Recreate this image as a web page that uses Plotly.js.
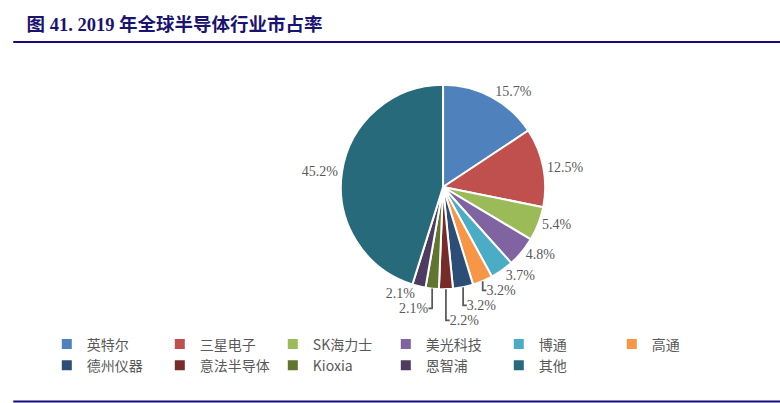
<!DOCTYPE html>
<html>
<head>
<meta charset="utf-8">
<script src="https://cdn.plot.ly/plotly-3.0.1.min.js"></script>
<style>
  html, body { margin: 0; padding: 0; background: #fff; }
  #chart { width: 780px; height: 403px; }
</style>
</head>
<body>
<div id="chart"></div>
<script>
// market share 2019, clockwise from 12 o'clock
const companies = ["英特尔", "三星电子", "SK海力士", "美光科技", "博通", "高通",
                   "德州仪器", "意法半导体", "Kioxia", "恩智浦", "其他"]
const shares = [15.7, 12.5, 5.4, 4.8, 3.7, 3.2, 3.2, 2.2, 2.1, 2.1, 45.2]
const sliceColors = ["#4F81BD", "#C0504D", "#9BBB59", "#8064A2", "#4BACC6", "#F79646",
                     "#2C4D75", "#772C2A", "#5F7530", "#4D3B62", "#276A7C"]

const navy = "#150a7e"
const labelFont = "Liberation Serif, DejaVu Serif, serif"
const cjkFont = "Noto Sans CJK SC, sans-serif"

const data = [{
    type: 'pie',
    labels: companies,
    values: shares,
    sort: false,
    direction: 'clockwise',
    rotation: 0,
    marker: { colors: sliceColors, line: { color: '#ffffff', width: 2 } },
    texttemplate: '%{value:.1f}%',
    textposition: 'outside',
    textfont: { family: labelFont, size: 14, color: '#595959' },
    outsidetextfont: { family: labelFont, size: 14, color: '#595959' },
    hoverinfo: 'label+value',
    domain: { x: [0.437, 0.699], y: [0.282, 0.79] },
}]

const layout = {
    width: 780,
    height: 403,
    margin: { l: 0, r: 0, t: 0, b: 0 },
    paper_bgcolor: '#ffffff',
    showlegend: true,
    title: {
        text: "<b>图 41. 2019 年全球半导体行业市占率</b>",
        font: { family: "Liberation Serif, Noto Sans CJK SC, serif", size: 18.5, color: "#1a1470" },
        xref: 'container', yref: 'container',
        x: 0.034, xanchor: 'left',
        y: 0.94, yanchor: 'middle',
    },
    legend: {
        orientation: 'h',
        x: 0.06, xanchor: 'left',
        y: 0.185, yanchor: 'top',
        entrywidth: 68,
        entrywidthmode: 'pixels',
        itemwidth: 30,
        bgcolor: 'rgba(0,0,0,0)',
        traceorder: 'normal',
        font: { family: cjkFont, size: 14, color: '#595959' },
        itemclick: false, itemdoubleclick: false,
    },
    shapes: [
        { type: 'line', xref: 'paper', yref: 'paper', x0: 0.017, x1: 1, y0: 0.896, y1: 0.896,
          line: { color: navy, width: 2 } },
        { type: 'line', xref: 'paper', yref: 'paper', x0: 0.017, x1: 1, y0: 0.004, y1: 0.004,
          line: { color: navy, width: 2 } },
    ],
}

Plotly.newPlot("chart", data, layout, { displaylogo: false, displayModeBar: false, staticPlot: true })
</script>
</body>
</html>
